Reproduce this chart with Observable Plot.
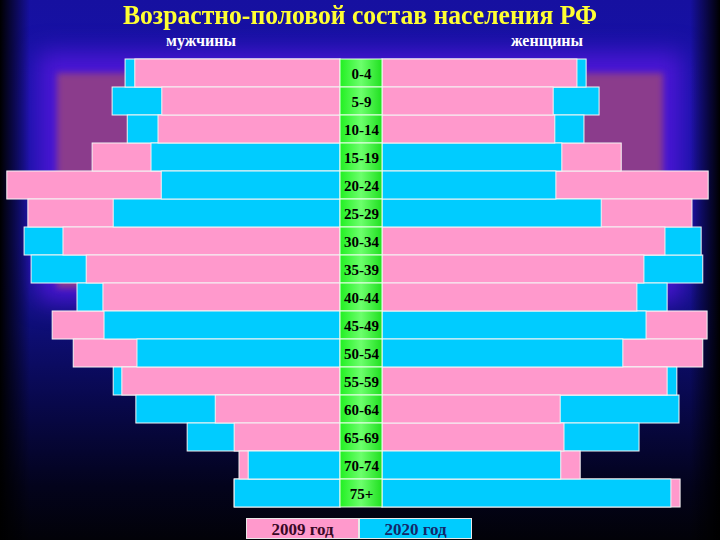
<!DOCTYPE html>
<html>
<head>
<meta charset="utf-8">
<script src="https://cdn.jsdelivr.net/npm/d3@7"></script>
<script src="https://cdn.jsdelivr.net/npm/@observablehq/plot@0.6"></script>
<style>
  body { margin: 0; background: #000; }
  #wrap { position: relative; width: 720px; height: 540px; overflow: hidden; background: #000;
          font-family: "Liberation Serif", "Times New Roman", serif; }
  .bg { position: absolute; }
  #bgBase { left: 0; top: 0; width: 720px; height: 540px;
    background: linear-gradient(to bottom, #1610a0 0%, #1812a8 20%, #14129a 45%, #0e0e78 60%, #08084a 75%, #03031c 90%, #020208 100%); }
  #violet { left: 38px; top: 52px; width: 644px; height: 250px; background: #4c16d6; filter: blur(12px); }
  #purple { left: 57px; top: 73px; width: 606px; height: 215px; background: #8b3c8c; filter: blur(3px); }
  #vign { left: 0; top: 0; width: 720px; height: 540px;
    background: linear-gradient(to right, rgba(0,0,0,1) 0px, rgba(0,0,0,0) 30px, rgba(0,0,0,0) 690px, rgba(0,0,0,1) 720px); }
  #title { position: absolute; left: 0; top: 0; width: 720px; text-align: center; font-weight: bold;
           font-size: 27px; line-height: 30px; color: #ffff33; transform: scaleX(0.95); transform-origin: 360px 0; }
  .sex { position: absolute; top: 31px; font-weight: bold; font-size: 16px; line-height: 20px; color: #fff; text-align: center; width: 120px; }
  #chart { position: absolute; left: 0; top: 56px; line-height: 0; }
  #legend { position: absolute; left: 246px; top: 518px; display: flex; }
  .lg { width: 113px; height: 21px; line-height: 21px; text-align: center; font-weight: bold; font-size: 17px;
        border: 1px solid #e8e8e8; box-sizing: border-box; }
</style>
</head>
<body>
<div id="wrap">
  <div class="bg" id="bgBase"></div>
  <div class="bg" id="violet"></div>
  <div class="bg" id="purple"></div>
  <div class="bg" id="vign"></div>
  <div id="title">Возрастно-половой состав населения РФ</div>
  <div class="sex" id="lm" style="left:141px">мужчины</div>
  <div class="sex" id="lf" style="left:487px">женщины</div>
  <div id="chart"></div>
  <div id="legend"></div>
</div>
<script>
// Age groups (top to bottom)
const ages = ["0-4","5-9","10-14","15-19","20-24","25-29","30-34","35-39","40-44","45-49","50-54","55-59","60-64","65-69","70-74","75+"];
// Population, millions
const male2009   = [3.80,3.30,3.37,4.59,6.17,5.78,5.13,4.70,4.39,5.33,4.94,4.04,2.31,1.96,1.87,1.96];
const male2020   = [3.98,4.22,3.94,3.50,3.31,4.20,5.85,5.72,4.87,4.37,3.76,4.20,3.78,2.83,1.70,1.96];
const female2009 = [3.61,3.17,3.20,4.43,6.04,5.74,5.24,4.85,4.72,6.02,5.94,5.28,3.30,3.37,3.67,5.52];
const female2020 = [3.78,4.02,3.74,3.33,3.22,4.06,5.91,5.94,5.28,4.89,4.46,5.46,5.50,4.76,3.31,5.35];
const years = ["2009 год", "2020 год"];
const colors = ["#ff99cc", "#00ccff"];
const textColors = ["#3a0826", "#14286a"];
const sexLabels = ["мужчины", "женщины"];

const pxPerUnit = 54;          // px per million
const half = 21 / pxPerUnit;    // half width of the central age column

const rows = [];
ages.forEach((a, i) => {
  rows.push({age: a, sex: "m", year: 0, v: male2009[i]});
  rows.push({age: a, sex: "m", year: 1, v: male2020[i]});
  rows.push({age: a, sex: "f", year: 0, v: female2009[i]});
  rows.push({age: a, sex: "f", year: 1, v: female2020[i]});
});
// larger bar first, smaller drawn on top
const sorted = d3.sort(rows, (a, b) => (b.v - a.v) || (a.year - b.year));

const plot = Plot.plot({
  width: 720,
  height: 454,
  marginTop: 0, marginBottom: 0, marginLeft: 0, marginRight: 0,
  style: {background: "transparent", overflow: "visible"},
  x: {domain: [-361 / pxPerUnit, 359 / pxPerUnit], axis: null},
  y: {domain: ages, padding: 0, axis: null},
  marks: [
    Plot.barX(sorted, {
      y: "age",
      x1: d => d.sex === "m" ? -half : half,
      x2: d => d.sex === "m" ? -half - d.v : half + d.v,
      fill: d => colors[d.year],
      stroke: "#f4f4f4",
      strokeWidth: 1
    }),
    Plot.barX(ages, {
      y: d => d,
      x1: -half,
      x2: half,
      fill: "url(#greenGrad)",
      stroke: "#e8ffe8",
      strokeWidth: 1
    }),
    Plot.text(ages, {
      y: d => d,
      x: d => 0,
      text: d => d,
      fill: "#000",
      fontSize: 15,
      fontWeight: "bold",
      fontFamily: "Liberation Serif, Times New Roman, serif",
      dy: 1
    })
  ]
});

const svg = d3.select(plot);
const defs = svg.insert("defs", ":first-child");
const g = defs.append("linearGradient").attr("id", "greenGrad")
  .attr("x1", "0").attr("x2", "1").attr("y1", "0").attr("y2", "0");
g.append("stop").attr("offset", "0%").attr("stop-color", "#22f022");
g.append("stop").attr("offset", "50%").attr("stop-color", "#6cff6c");
g.append("stop").attr("offset", "100%").attr("stop-color", "#20e020");

document.getElementById("chart").appendChild(plot);

const legend = document.getElementById("legend");
years.forEach((y, i) => {
  const d = document.createElement("div");
  d.className = "lg";
  d.style.background = colors[i];
  d.style.color = textColors[i];
  d.textContent = y;
  legend.appendChild(d);
});
document.getElementById("lm").textContent = sexLabels[0];
document.getElementById("lf").textContent = sexLabels[1];
</script>
</body>
</html>
